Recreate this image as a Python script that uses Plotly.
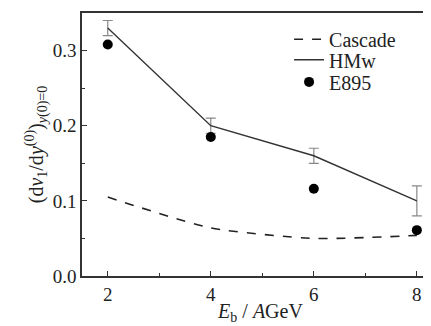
import plotly.graph_objects as go

energy = [2, 4, 6, 8]
cascade = [0.105, 0.064, 0.050, 0.054]
hmw = [0.330, 0.200, 0.160, 0.100]
hmw_err = [0.010, 0.010, 0.010, 0.020]
e895 = [0.308, 0.185, 0.116, 0.061]

font_family = "Liberation Serif, Times New Roman, serif"

fig = go.Figure()
fig.add_trace(go.Scatter(
    x=energy, y=cascade, mode="lines", name="Cascade", legend="legend",
    line=dict(color="#222222", width=1.6, dash="dash", shape="spline", smoothing=0.6),
))
fig.add_trace(go.Scatter(
    x=energy, y=hmw, mode="lines", name="HMw", legend="legend2",
    line=dict(color="#333333", width=1.4),
    error_y=dict(type="data", array=hmw_err, visible=True, color="#888888", thickness=1.2, width=5),
))
fig.add_trace(go.Scatter(
    x=energy, y=e895, mode="markers", name="E895", legend="legend3",
    marker=dict(color="black", size=10),
))

leg_common = dict(xanchor="left", yanchor="middle", bgcolor="rgba(0,0,0,0)",
                  font=dict(size=20, family=font_family, color="#222222"), itemwidth=30)

fig.update_layout(
    width=431, height=326,
    margin=dict(l=74, r=0, t=5, b=58),
    paper_bgcolor="white", plot_bgcolor="white",
    font=dict(family=font_family, size=19, color="#222222"),
    showlegend=True,
    legend=dict(x=0.58, y=0.9, **leg_common),
    legend2=dict(x=0.58, y=0.822, **leg_common),
    legend3=dict(x=0.58, y=0.738, **leg_common),
    xaxis=dict(
        range=[1.5, 8.43], tickvals=[2, 4, 6, 8], ticktext=["2", "4", "6", "8"],
        ticks="inside", ticklen=5, tickcolor="#333", showgrid=False, zeroline=False,
        showline=True, linecolor="#333", linewidth=1.5, mirror=True,
        tickfont=dict(family=font_family, size=19),
        minor=dict(tickvals=[3, 5, 7], ticks="inside", ticklen=3, tickcolor="#333"),
        title=dict(text="<i>E</i><sub>b</sub> / <i>A</i>GeV", font=dict(size=20, family=font_family), standoff=0),
    ),
    yaxis=dict(
        range=[0, 0.35], tickvals=[0.0, 0.1, 0.2, 0.3], ticktext=["0.0", "0.1", "0.2", "0.3"],
        ticks="inside", ticklen=5, tickcolor="#333", showgrid=False, zeroline=False,
        showline=True, linecolor="#333", linewidth=1.5, mirror=False,
        tickfont=dict(family=font_family, size=19),
        minor=dict(tickvals=[0.05, 0.15, 0.25], ticks="inside", ticklen=3, tickcolor="#333"),
        title=dict(text="(d<i>v</i><sub>1</sub>/d<i>y</i><sup>(0)</sup>)<sub><i>y</i>(0)=0</sub>",
                   font=dict(size=20, family=font_family), standoff=4),
    ),
)

fig.write_html("out.html")
